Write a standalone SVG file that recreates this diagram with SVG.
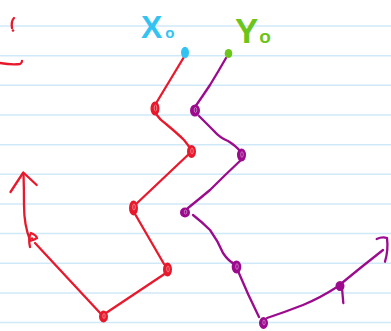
<svg xmlns="http://www.w3.org/2000/svg" width="391" height="331" viewBox="0 0 391 331">
<style>
.rule{stroke:#cfe9f8;stroke-width:1.5}
.r{stroke:#e8192c;fill:none;stroke-width:2.3;stroke-linecap:round;stroke-linejoin:round}
.p{stroke:#9c0a8e;fill:none;stroke-width:2.3;stroke-linecap:round;stroke-linejoin:round}
.rn{fill:#e8192c;stroke:#e8192c;stroke-width:2}
.pn{fill:#9c0a8e;stroke:#9c0a8e;stroke-width:2}
.hl{fill:none;stroke:#fff;stroke-width:0.8;opacity:0.5}
.lbl{font-family:"Liberation Sans","DejaVu Sans",sans-serif;font-weight:bold}
</style>
<rect width="391" height="331" fill="#fff"/>
<g id="paper">
<line class="rule" x1="0" y1="26" x2="391" y2="26"/>
<line class="rule" x1="0" y1="55.7" x2="391" y2="55.7"/>
<line class="rule" x1="0" y1="85.3" x2="391" y2="85.3"/>
<line class="rule" x1="0" y1="115" x2="391" y2="115"/>
<line class="rule" x1="0" y1="144.7" x2="391" y2="144.7"/>
<line class="rule" x1="0" y1="174.3" x2="391" y2="174.3"/>
<line class="rule" x1="0" y1="204" x2="391" y2="204"/>
<line class="rule" x1="0" y1="233.6" x2="391" y2="233.6"/>
<line class="rule" x1="0" y1="263.3" x2="391" y2="263.3"/>
<line class="rule" x1="0" y1="293" x2="391" y2="293"/>
<line class="rule" x1="0" y1="322.6" x2="391" y2="322.6"/>
</g>
<g id="marks">
<path class="r" d="M14,18 Q11,21 12,28"/>
<circle cx="13" cy="30.5" r="1.3" fill="#e8192c"/>
<path class="r" stroke-width="2.6" d="M0,63 Q12,65 20,64 Q22,63 22,61"/>
</g>
<g id="connectors">
<path class="r" d="M184,57 L155,105"/>
<path class="r" d="M156,114 Q160,120 166,124 Q178,134 184,140 Q188,145 190,148"/>
<path class="r" d="M190,153 L134,206"/>
<path class="r" d="M135,214 Q150,240 164,264"/>
<path class="r" d="M166,273 L106,313"/>
<path class="r" d="M101,314 L35,243"/>
<path class="r" d="M30,240 Q24,225 24,205 Q24,188 23.5,174"/>
<path class="r" d="M10.5,192 L23.3,172.5 L36.7,185"/>
<path class="p" d="M226,58 Q218,72 210,85 Q202,97 195,107"/>
<path class="p" d="M199,116 Q207,124 213,130 Q220,138 228,141 Q236,146 240,151"/>
<path class="p" d="M242,159 Q225,175 210,190 Q198,200 188,208"/>
<path class="p" d="M193,215 Q202,222 210,230 Q218,241 223,253 Q229,262 235,264"/>
<path class="p" d="M238,271 Q248,295 259,317"/>
<path class="p" d="M267,318 Q285,312 303,305 Q320,298 337,287 Q360,268 383,250"/>
<path class="p" d="M376.7,239 Q382,236.5 387,238 Q388.5,250 385,261.7"/>
</g>
<g id="x0">
<text class="lbl" x="141" y="38" font-size="32" fill="#33c3f3">X<tspan font-size="15" dx="3">o</tspan></text>
<ellipse cx="185" cy="52.5" rx="4" ry="5.8" fill="#33c3f3"/>
</g>
<g id="y0">
<text class="lbl" x="235" y="43" font-size="35" fill="#6cc51a">Y<tspan font-size="19" dx="1">o</tspan></text>
<ellipse cx="228.5" cy="53.5" rx="3.8" ry="4.5" fill="#6cc51a"/>
</g>
<g id="r1"><ellipse class="rn" cx="155" cy="108.5" rx="3.5" ry="6"/><ellipse class="hl" cx="155.5" cy="108" rx="1.3" ry="3"/></g>
<g id="r2"><ellipse class="rn" cx="191.5" cy="151.5" rx="3.5" ry="5.5"/><ellipse class="hl" cx="192" cy="151" rx="1.3" ry="3"/></g>
<g id="r3"><ellipse class="rn" cx="133.5" cy="208" rx="3.5" ry="6.5"/><ellipse class="hl" cx="134" cy="207" rx="1.3" ry="3"/></g>
<g id="r4"><ellipse class="rn" cx="167.5" cy="269.5" rx="3.5" ry="6"/><ellipse class="hl" cx="168" cy="269" rx="1.3" ry="3"/></g>
<g id="r5"><ellipse class="rn" cx="103.5" cy="316.5" rx="3.5" ry="5"/><ellipse class="hl" cx="104" cy="316" rx="1.2" ry="2.5"/></g>
<g id="r6"><path class="r" d="M30,247 Q28,238 31,233 Q36,235 37,238 Q34,240 30,241"/><circle cx="32" cy="238.5" r="1.3" fill="#e8192c"/></g>
<g id="p1"><ellipse class="pn" cx="195" cy="110.5" rx="4" ry="5"/><ellipse class="hl" cx="195.5" cy="110" rx="1.3" ry="2.5"/></g>
<g id="p2"><ellipse class="pn" cx="241.5" cy="155" rx="3.5" ry="5.5"/><ellipse class="hl" cx="242" cy="154.5" rx="1.3" ry="2.8"/></g>
<g id="p3"><ellipse class="pn" cx="185" cy="212.5" rx="4" ry="4"/><ellipse class="hl" cx="185.5" cy="212" rx="1.3" ry="2"/></g>
<g id="p4"><ellipse class="pn" cx="236.5" cy="267" rx="3.8" ry="5.5"/><ellipse class="hl" cx="237" cy="266.5" rx="1.3" ry="2.8"/></g>
<g id="p5"><ellipse class="pn" cx="263.5" cy="323" rx="3.5" ry="5"/><ellipse class="hl" cx="264" cy="322.5" rx="1.2" ry="2.5"/></g>
<g id="p6"><ellipse class="pn" cx="340" cy="286" rx="3.5" ry="4"/><path class="p" stroke-width="2.6" d="M342,288 L343.3,303"/></g>
</svg>
